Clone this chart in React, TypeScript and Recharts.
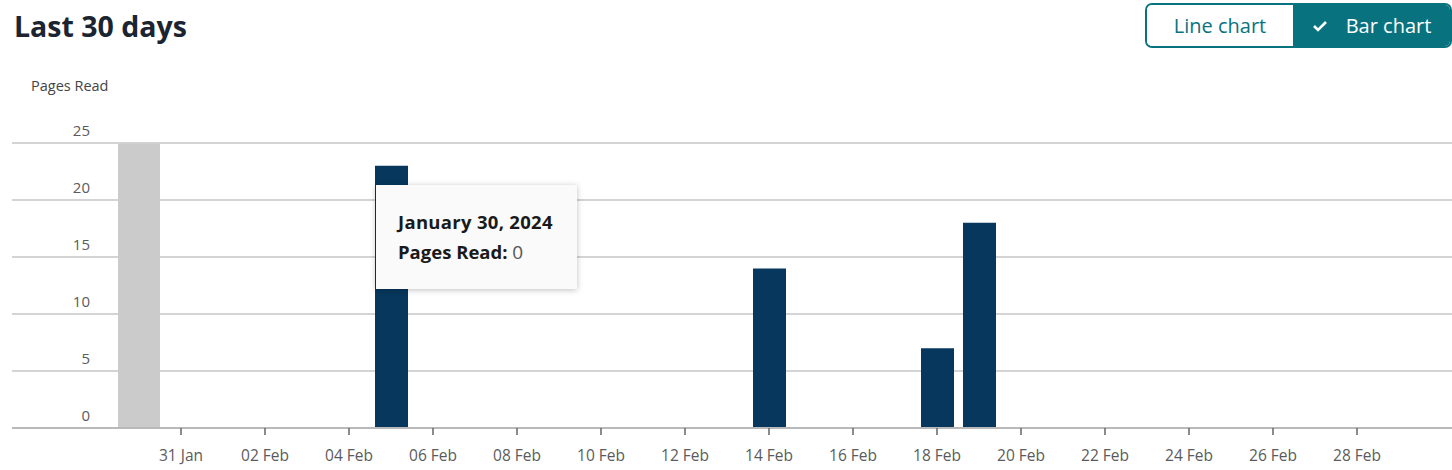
import { Bar, BarChart, CartesianGrid, Tooltip, XAxis, YAxis } from "recharts";

const days = [
  "30 Jan", "31 Jan", "01 Feb", "02 Feb", "03 Feb", "04 Feb", "05 Feb", "06 Feb",
  "07 Feb", "08 Feb", "09 Feb", "10 Feb", "11 Feb", "12 Feb", "13 Feb", "14 Feb",
  "15 Feb", "16 Feb", "17 Feb", "18 Feb", "19 Feb", "20 Feb", "21 Feb", "22 Feb",
  "23 Feb", "24 Feb", "25 Feb", "26 Feb", "27 Feb", "28 Feb",
];
const pagesRead = [
  0, 0, 0, 0, 0, 0, 23, 0, 0, 0, 0, 0, 0, 0, 0, 14, 0, 0, 0, 7, 18, 0, 0, 0, 0, 0,
  0, 0, 0, 0,
];
const xTicks = days.filter((_d, i) => i % 2 === 1);
const yTicks = [0, 5, 10, 15, 20, 25];

const FONT = '"Open Sans", "Noto Sans", sans-serif';
const TEAL = "#08737f";

const fullDate = (label: string) => {
  const [d, m] = label.split(" ");
  const month = m === "Jan" ? "January" : "February";
  return `${month} ${parseInt(d, 10)}, 2024`;
};

const data = days.map((day, i) => ({ day, pages: pagesRead[i] }));

// y labels sit just above their gridline, right-aligned at x=90
const renderYTick = (props: any) => (
  <text
    key={props.payload.value}
    x={90}
    y={props.y - 7}
    textAnchor="end"
    fontSize={15}
    fill="#5b5b5b"
    fontFamily={FONT}
  >
    {props.payload.value}
  </text>
);

const TipContent = ({ active, payload, label }: any) => {
  if (!active || !payload || !payload.length) return null;
  return (
    <div
      style={{
        width: 201,
        height: 104,
        boxSizing: "border-box",
        background: "#fafafa",
        boxShadow: "0 1px 6px rgba(0,0,0,0.25)",
        padding: "22px 0 0 22px",
        fontFamily: FONT,
        color: "#1a1a1a",
      }}
    >
      <div style={{ fontWeight: 700, fontSize: 18.5, lineHeight: "30px", letterSpacing: 0.3 }}>
        {fullDate(label)}
      </div>
      <div style={{ fontSize: 18.5, lineHeight: "30px" }}>
        <b>Pages Read:</b> <span style={{ color: "#555", fontSize: 19 }}>{payload[0].value}</span>
      </div>
    </div>
  );
};

export default function App() {
  return (
    <div style={{ position: "relative", width: 1452, height: 470, fontFamily: FONT, background: "#fff" }}>
      <style>{"body{margin:0}"}</style>
      <div
        style={{
          position: "absolute",
          left: 14,
          top: 7,
          fontSize: 28.5,
          fontWeight: 700,
          color: "#1b2430",
        }}
      >
        Last 30 days
      </div>
      <div
        style={{
          position: "absolute",
          left: 1145,
          top: 3,
          width: 307,
          height: 45,
          boxSizing: "border-box",
          border: `2px solid ${TEAL}`,
          borderRadius: 7,
          overflow: "hidden",
          display: "flex",
          fontSize: 20,
        }}
      >
        <div
          style={{
            width: 146,
            display: "flex",
            alignItems: "center",
            justifyContent: "center",
            color: TEAL,
            background: "#fff",
          }}
        >
          Line chart
        </div>
        <div
          style={{
            flex: 1,
            display: "flex",
            alignItems: "center",
            justifyContent: "center",
            color: "#fff",
            background: TEAL,
            gap: 18,
          }}
        >
          <svg width={16} height={14} viewBox="0 0 16 14">
            <path d="M2 7 L6 11 L14 3" stroke="#fff" strokeWidth={2.6} fill="none" />
          </svg>
          Bar chart
        </div>
      </div>
      <div
        style={{
          position: "absolute",
          left: 31,
          top: 76,
          fontSize: 14.5,
          color: "#444",
        }}
      >
        Pages Read
      </div>
      <div style={{ position: "absolute", left: 0, top: 0 }}>
        <BarChart
          width={1452}
          height={470}
          data={data}
          margin={{ top: 143, right: 0, bottom: 0, left: 11 }}
          barSize={33}
        >
          <CartesianGrid vertical={false} stroke="#d4d4d4" strokeWidth={2} x={12} width={1440} />
          <XAxis
            dataKey="day"
            ticks={xTicks}
            interval={0}
            height={42}
            padding={{ left: 106, right: 74 }}
            stroke="#b9b9b9"
            strokeWidth={2}
            tickLine={{ stroke: "#666", strokeWidth: 1.5 }}
            tickSize={7}
            tick={{ fill: "#5b5b5b", fontSize: 15.5, fontFamily: FONT, dy: 13 }}
          />
          <YAxis
            width={1}
            domain={[0, 25]}
            ticks={yTicks}
            axisLine={false}
            tickLine={false}
            tick={renderYTick}
          />
          <Tooltip
            defaultIndex={0}
            position={{ x: 376, y: 185 }}
            cursor={{ fill: "#cbcbcb" }}
            content={<TipContent />}
            isAnimationActive={false}
          />
          <Bar dataKey="pages" fill="#07375c" isAnimationActive={false} />
        </BarChart>
      </div>
    </div>
  );
}
